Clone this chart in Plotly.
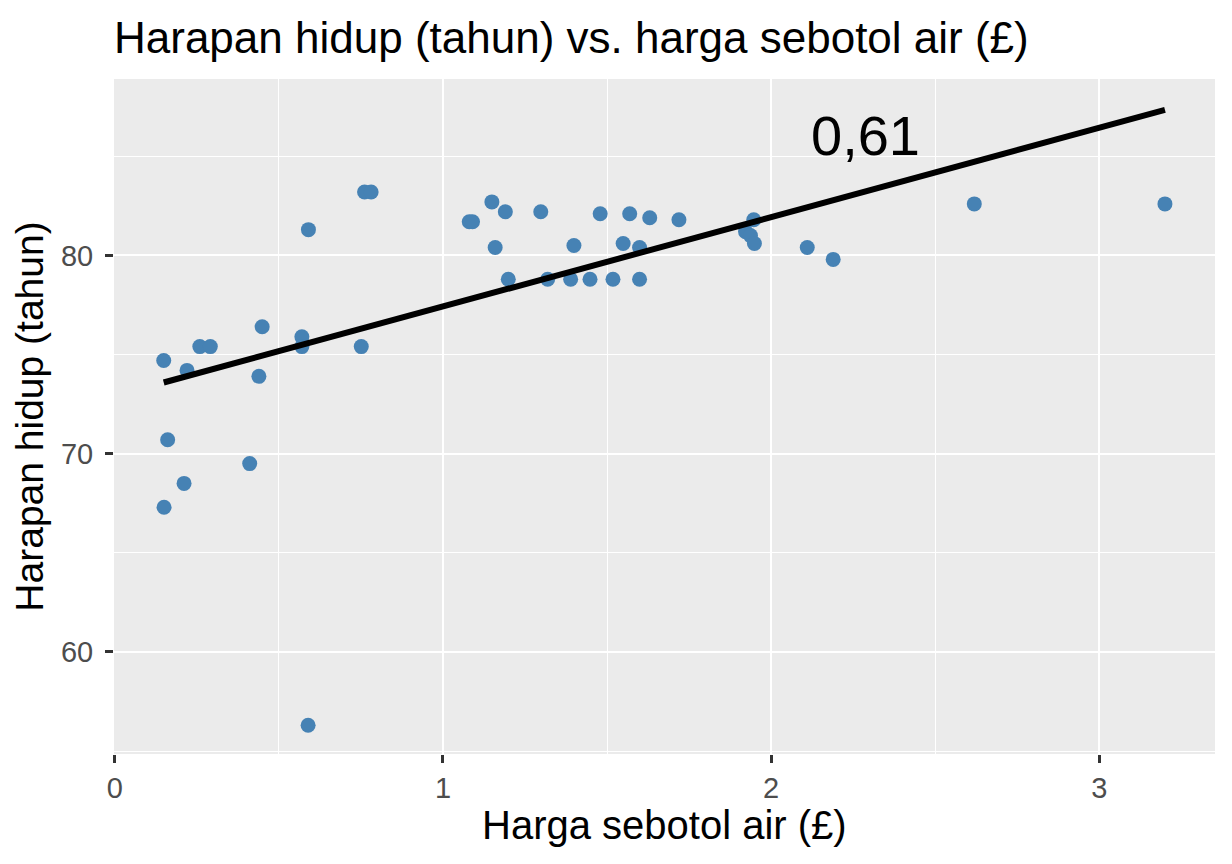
import plotly.graph_objects as go

# harga sebotol air (GBP) dan harapan hidup (tahun)
price = [0.149, 0.161, 0.150, 0.211, 0.220, 0.259, 0.291, 0.411, 0.439, 0.449,
         0.570, 0.570, 0.590, 0.589, 0.751, 0.761, 0.781, 1.080, 1.090, 1.149,
         1.159, 1.190, 1.199, 1.298, 1.319, 1.399, 1.389, 1.448, 1.479, 1.518,
         1.549, 1.569, 1.599, 1.599, 1.630, 1.719, 1.922, 1.937, 1.947, 1.949,
         2.110, 2.189, 2.619, 3.200]
life = [74.7, 70.7, 67.3, 68.5, 74.2, 75.4, 75.4, 69.5, 73.9, 76.4,
        75.9, 75.4, 81.3, 56.3, 75.4, 83.2, 83.2, 81.7, 81.7, 82.7,
        80.4, 82.2, 78.8, 82.2, 78.8, 80.5, 78.8, 78.8, 82.1, 78.8,
        80.6, 82.1, 80.4, 78.8, 81.9, 81.8, 81.2, 81.0, 81.8, 80.6,
        80.4, 79.8, 82.6, 82.6]

# garis regresi (ujung kiri & kanan)
fit_x = [0.149, 3.200]
fit_y = [73.59, 87.34]

corr_label = "0,61"
corr_pos = (2.287, 86.05)

x_ticks = [0, 1, 2, 3]
y_ticks = [60, 70, 80]

FONT = "Liberation Sans, Arial, Helvetica, sans-serif"

# the page adds an 8px body margin, so the figure is 8px smaller on each side
W, H = 1224, 856
M = dict(l=106, r=17, t=71, b=110)
plot_h = H - M["t"] - M["b"]

fig = go.Figure()

fig.add_trace(go.Scatter(
    x=price, y=life, mode="markers",
    marker=dict(color="#4682B4", size=15, line=dict(width=0)),
    showlegend=False,
))
fig.add_trace(go.Scatter(
    x=fit_x, y=fit_y, mode="lines",
    line=dict(color="black", width=6),
    showlegend=False,
))

fig.add_annotation(
    x=corr_pos[0], y=corr_pos[1], text=corr_label, showarrow=False,
    font=dict(family=FONT, size=56, color="black"),
    xanchor="center", yanchor="middle",
)
# x axis title
fig.add_annotation(
    x=0.5, xref="paper", y=-71 / plot_h, yref="paper",
    text="Harga sebotol air (£)", showarrow=False,
    font=dict(family=FONT, size=40, color="black"),
    xanchor="center", yanchor="middle",
)

axis_common = dict(
    showgrid=True, gridcolor="white", gridwidth=2.2,
    zeroline=False, showline=False,
    ticks="outside", ticklen=8, tickwidth=2.5, tickcolor="#333333",
    tickfont=dict(family=FONT, size=29, color="#4D4D4D"),
)

fig.update_xaxes(
    **axis_common,
    range=[-0.0025, 3.3525], tickvals=x_ticks,
    minor=dict(dtick=0.5, tick0=0, showgrid=True, gridcolor="white", gridwidth=1.1, ticks=""),
)
fig.update_yaxes(
    **axis_common,
    range=[54.85, 88.9], tickvals=y_ticks, ticklabelstandoff=6,
    minor=dict(dtick=5, tick0=55, showgrid=True, gridcolor="white", gridwidth=1.1, ticks=""),
    title_text="Harapan hidup (tahun)", title_standoff=12,
    title_font=dict(family=FONT, size=39, color="black"),
)

fig.update_layout(
    width=W, height=H,
    paper_bgcolor="white", plot_bgcolor="#EBEBEB",
    margin=M,
    title=dict(
        text="Harapan hidup (tahun) vs. harga sebotol air (£)",
        font=dict(family=FONT, size=44, color="black"),
        x=0, xref="paper", xanchor="left",
        y=1 - 30 / H, yref="container", yanchor="middle",
    ),
)

fig.write_html("out.html")
